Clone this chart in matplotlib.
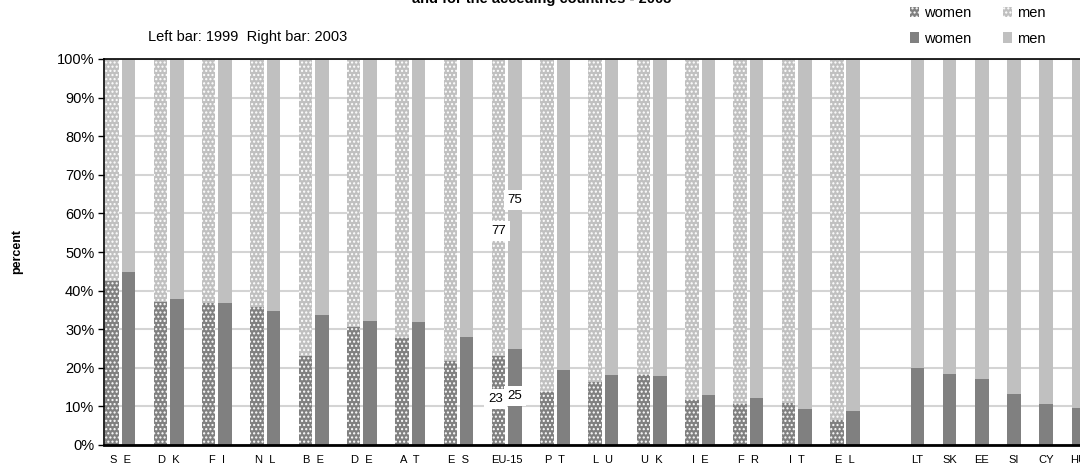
import numpy as np
import matplotlib
matplotlib.use("Agg")
import matplotlib.pyplot as plt
from matplotlib.patches import Patch

plt.rcParams['font.family'] = ['Liberation Sans', 'DejaVu Sans']
plt.rcParams['hatch.linewidth'] = 1.0

# --- data -----------------------------------------------------------
pair_labels = ["S E", "D K", "F I", "N L", "B E", "D E", "A T", "E S", "EU-15",
               "P T", "L U", "U K", "I E", "F R", "I T", "E L"]
women_1999 = [42.5, 37.0, 36.8, 35.8, 23.0, 30.6, 27.7, 21.8, 23.0,
              13.7, 16.3, 18.1, 11.7, 10.6, 11.0, 6.5]
women_2003 = [44.8, 37.8, 36.8, 34.7, 33.7, 32.1, 31.9, 28.0, 25.0,
              19.4, 18.1, 17.9, 13.0, 12.2, 9.3, 8.8]
acc_labels = ["LT", "SK", "EE", "SI", "CY", "HU"]
acc_women_2003 = [19.9, 18.4, 17.0, 13.2, 10.6, 9.6]
eu_index = pair_labels.index("EU-15")

# --- colours --------------------------------------------------------
DARK = "#808080"
LIGHT = "#c0c0c0"
HATCH = "...."

fig = plt.figure(figsize=(10.8, 4.68), dpi=100)
ax = fig.add_axes([104 / 1080, 1 - 445 / 468, 1 - 104 / 1080, (445 - 59) / 468])

n = len(pair_labels)
x_left = 3 * np.arange(n)
x_right = x_left + 1.02
x_acc = 50 + 2 * np.arange(len(acc_labels))
w = 0.84

w99 = np.array(women_1999)
w03 = np.array(women_2003)
a03 = np.array(acc_women_2003)

# 1999 bars (patterned)
ax.bar(x_left, w99, width=w, color=DARK, edgecolor="white", linewidth=0,
       hatch=HATCH, zorder=2)
ax.bar(x_left, 100 - w99, bottom=w99, width=w, color=LIGHT, edgecolor="white",
       linewidth=0, hatch=HATCH, zorder=2)
# 2003 bars (solid)
ax.bar(x_right, w03, width=w, color=DARK, linewidth=0, zorder=2)
ax.bar(x_right, 100 - w03, bottom=w03, width=w, color=LIGHT, linewidth=0, zorder=2)
ax.bar(x_acc, a03, width=w, color=DARK, linewidth=0, zorder=2)
ax.bar(x_acc, 100 - a03, bottom=a03, width=w, color=LIGHT, linewidth=0, zorder=2)

# EU-15 value labels
box = dict(boxstyle="square,pad=0.3", fc="white", ec="none")
xl, xr = x_left[eu_index], x_right[eu_index]
ax.text(xl - 0.2, 12.0, f"{w99[eu_index]:.0f}", ha="center", va="center",
        fontsize=9.5, bbox=box, zorder=4)
ax.text(xl, 55.5, f"{100 - w99[eu_index]:.0f}", ha="center", va="center",
        fontsize=9.5, bbox=box, zorder=4)
ax.text(xr, 12.7, f"{w03[eu_index]:.0f}", ha="center", va="center",
        fontsize=9.5, bbox=box, zorder=4)
ax.text(xr, 63.5, f"{100 - w03[eu_index]:.0f}", ha="center", va="center",
        fontsize=9.5, bbox=box, zorder=4)

# axes styling
ax.set_xlim(-0.5, 60.1)
ax.set_ylim(0, 100)
ax.set_yticks(np.arange(0, 101, 10))
ax.set_yticklabels([f"{v}%" for v in range(0, 101, 10)], fontsize=10.5)
ax.yaxis.grid(True, color="#d4d4d4", linewidth=1.5, zorder=0)
ax.set_axisbelow(True)
ax.tick_params(axis="y", length=4, width=1, color="black", pad=3)
ax.tick_params(axis="x", length=0, pad=7)
ax.set_xticks(list((x_left + x_right) / 2) + list(x_acc))
ax.set_xticklabels([lab.replace(" ", "  ") for lab in pair_labels] + acc_labels,
                   fontsize=8)
for s in ["left", "top"]:
    ax.spines[s].set_linewidth(1.2)
ax.spines["bottom"].set_linewidth(2)
ax.spines["right"].set_visible(False)

ax.set_ylabel("percent", fontsize=9, fontweight="bold", labelpad=24)

# texts
fig.text(542 / 1080, 1 - 3 / 468, "and for the acceding countries - 2003",
         ha="center", va="baseline", fontsize=10.5, fontweight="bold")
fig.text(148 / 1080, 1 - 37 / 468, "Left bar: 1999  Right bar: 2003",
         ha="left", va="center", fontsize=10.5)

handles = [
    Patch(facecolor=DARK, edgecolor="white", linewidth=0, hatch=HATCH),
    Patch(facecolor=DARK, linewidth=0),
    Patch(facecolor=LIGHT, edgecolor="white", linewidth=0, hatch=HATCH),
    Patch(facecolor=LIGHT, linewidth=0),
]
labels = ["women", "women", "men", "men"]
fig.legend(handles, labels, loc="upper left", bbox_to_anchor=(910 / 1080, 1 - 6 / 468),
           ncol=2, frameon=False, fontsize=10.5, handlelength=0.6, handleheight=0.7,
           handletextpad=0.35, columnspacing=2.2, labelspacing=0.8, borderpad=0,
           borderaxespad=0)

fig.savefig("out.png", dpi=100)
